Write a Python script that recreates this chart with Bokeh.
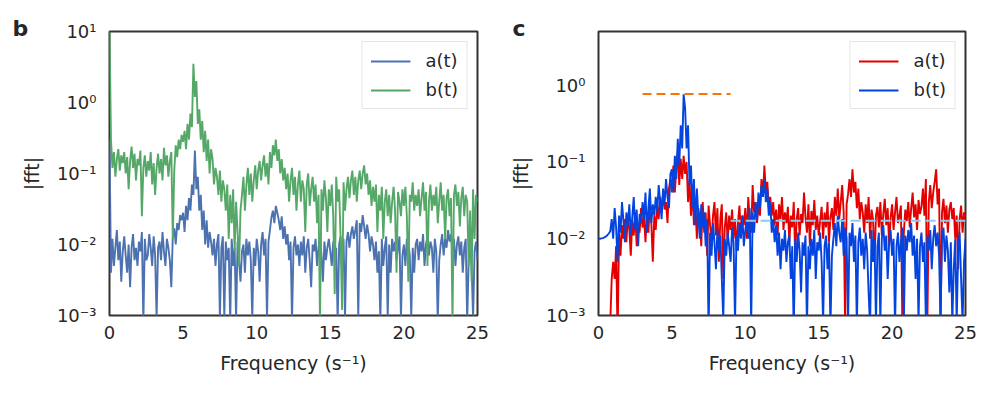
import numpy as np
from bokeh.plotting import figure
from bokeh.models import Range1d, FixedTicker, CustomJSTickFormatter
from bokeh.layouts import row
from bokeh.embed import file_html
from bokeh.resources import INLINE

FREQ_STEP = 0.1  # spacing of the frequency grid (s^-1)

# ---- panel b : |fft| of a(t) and b(t) ----
b_a = [
    0.30, 0.004, 0.012, 0.005, 0.009, 0.016, 0.006, 0.011, 0.003, 0.008,
    0.013, 0.007, 0.004, 0.010, 0.0025, 0.009, 0.014, 0.006, 0.009, 0.005,
    0.011, 0.008, 0.015, 0.0008, 0.012, 0.006, 0.007, 0.014, 0.009, 0.005,
    0.013, 0.007, 0.0009, 0.009, 0.011, 0.006, 0.015, 0.008, 0.005, 0.012,
    0.009, 0.006, 0.0025, 0.013, 0.017, 0.010, 0.020, 0.016, 0.026, 0.022,
    0.028, 0.015, 0.035, 0.022, 0.045, 0.030, 0.070, 0.050, 0.210, 0.060,
    0.090, 0.030, 0.050, 0.016, 0.030, 0.010, 0.022, 0.009, 0.015, 0.011,
    0.007, 0.012, 0.005, 0.010, 0.014, 0.0009, 0.009, 0.013, 0.0009, 0.011,
    0.006, 0.009, 0.0008, 0.012, 0.005, 0.009, 0.0009, 0.011, 0.006, 0.003,
    0.008, 0.010, 0.004, 0.012, 0.007, 0.011, 0.006, 0.0009, 0.009, 0.005,
    0.012, 0.008, 0.003, 0.010, 0.015, 0.007, 0.012, 0.0009, 0.011, 0.016,
    0.024, 0.030, 0.020, 0.035, 0.028, 0.022, 0.016, 0.025, 0.012, 0.018,
    0.010, 0.014, 0.006, 0.011, 0.0008, 0.009, 0.013, 0.007, 0.010, 0.005,
    0.011, 0.007, 0.013, 0.004, 0.009, 0.012, 0.006, 0.0025, 0.010, 0.008,
    0.012, 0.005, 0.009, 0.013, 0.007, 0.003, 0.011, 0.006, 0.009, 0.012,
    0.008, 0.005, 0.011, 0.006, 0.009, 0.0008, 0.010, 0.013, 0.004, 0.012,
    0.0009, 0.011, 0.015, 0.009, 0.014, 0.018, 0.012, 0.016, 0.022, 0.0009,
    0.020, 0.015, 0.026, 0.018, 0.012, 0.019, 0.014, 0.008, 0.013, 0.010,
    0.006, 0.011, 0.004, 0.008, 0.0008, 0.012, 0.005, 0.009, 0.013, 0.0009,
    0.010, 0.004, 0.012, 0.008, 0.011, 0.006, 0.009, 0.013, 0.0009, 0.007,
    0.010, 0.005, 0.012, 0.011, 0.007, 0.0009, 0.009, 0.004, 0.010, 0.012,
    0.006, 0.011, 0.008, 0.014, 0.005, 0.010, 0.013, 0.007, 0.011, 0.009,
    0.004, 0.012, 0.008, 0.0008, 0.006, 0.010, 0.014, 0.007, 0.012, 0.009,
    0.016, 0.011, 0.014, 0.008, 0.012, 0.005, 0.010, 0.013, 0.007, 0.011,
    0.004, 0.009, 0.012, 0.0008, 0.006, 0.010, 0.005, 0.0009, 0.008, 0.011, 0.006,
]
b_b = [
    12.0, 0.30, 0.12, 0.20, 0.09, 0.16, 0.22, 0.11, 0.18, 0.14,
    0.20, 0.10, 0.17, 0.06, 0.15, 0.24, 0.12, 0.19, 0.08, 0.16,
    0.13, 0.21, 0.025, 0.12, 0.18, 0.09, 0.15, 0.11, 0.20, 0.07,
    0.14, 0.05, 0.12, 0.19, 0.10, 0.16, 0.08, 0.23, 0.13, 0.18,
    0.09, 0.15, 0.20, 0.012, 0.11, 0.25, 0.17, 0.30, 0.22, 0.35,
    0.28, 0.40, 0.22, 0.50, 0.30, 0.70, 0.45, 3.50, 1.20, 2.00,
    0.50, 0.80, 0.30, 0.55, 0.20, 0.40, 0.15, 0.30, 0.10, 0.22,
    0.16, 0.07, 0.12, 0.09, 0.05, 0.11, 0.04, 0.08, 0.06, 0.03,
    0.07, 0.012, 0.05, 0.02, 0.06, 0.008, 0.04, 0.015, 0.005, 0.03,
    0.05, 0.09, 0.03, 0.07, 0.12, 0.05, 0.10, 0.04, 0.08, 0.13,
    0.06, 0.11, 0.15, 0.08, 0.13, 0.18, 0.09, 0.14, 0.07, 0.20,
    0.12, 0.25, 0.18, 0.30, 0.15, 0.22, 0.10, 0.16, 0.08, 0.12,
    0.06, 0.10, 0.04, 0.08, 0.12, 0.05, 0.09, 0.03, 0.07, 0.11,
    0.04, 0.08, 0.06, 0.015, 0.07, 0.10, 0.035, 0.06, 0.09, 0.04,
    0.07, 0.02, 0.05, 0.0008, 0.06, 0.03, 0.08, 0.045, 0.015, 0.06,
    0.035, 0.07, 0.025, 0.002, 0.09, 0.04, 0.06, 0.012, 0.0012, 0.075,
    0.03, 0.06, 0.09, 0.045, 0.08, 0.11, 0.05, 0.09, 0.04, 0.08,
    0.11, 0.06, 0.10, 0.13, 0.07, 0.10, 0.05, 0.08, 0.035, 0.065,
    0.04, 0.07, 0.015, 0.05, 0.03, 0.065, 0.012, 0.04, 0.06, 0.025,
    0.05, 0.02, 0.04, 0.065, 0.03, 0.004, 0.055, 0.04, 0.025, 0.06,
    0.035, 0.065, 0.025, 0.003, 0.05, 0.04, 0.075, 0.03, 0.05, 0.035,
    0.06, 0.025, 0.045, 0.075, 0.03, 0.055, 0.005, 0.04, 0.07, 0.03,
    0.05, 0.035, 0.065, 0.02, 0.04, 0.075, 0.03, 0.05, 0.012, 0.045,
    0.06, 0.025, 0.045, 0.0008, 0.05, 0.07, 0.035, 0.055, 0.018, 0.045,
    0.065, 0.025, 0.05, 0.04, 0.005, 0.03, 0.003, 0.06, 0.012, 0.05, 0.04,
]

# ---- panel c : |fft| of a(t) and b(t) ----
c_a = [
    0.0001, 0.0001, 0.0001, 0.0001, 0.0001, 0.0001, 0.0001, 0.0002, 0.0008, 0.003,
    0.005, 0.003, 0.008, 0.0005, 0.012, 0.006, 0.015, 0.010, 0.018, 0.009,
    0.020, 0.013, 0.006, 0.017, 0.011, 0.022, 0.008, 0.015, 0.012, 0.025,
    0.014, 0.019, 0.009, 0.021, 0.012, 0.030, 0.016, 0.005, 0.020, 0.013,
    0.027, 0.018, 0.035, 0.022, 0.040, 0.024, 0.030, 0.016, 0.045, 0.060,
    0.040, 0.090, 0.040, 0.080, 0.140, 0.050, 0.110, 0.060, 0.120, 0.070,
    0.100, 0.030, 0.060, 0.020, 0.045, 0.015, 0.028, 0.010, 0.025, 0.018,
    0.008, 0.030, 0.012, 0.022, 0.006, 0.027, 0.015, 0.009, 0.020, 0.030,
    0.011, 0.025, 0.005, 0.018, 0.028, 0.003, 0.014, 0.022, 0.009, 0.020,
    0.013, 0.024, 0.010, 0.018, 0.007, 0.016, 0.027, 0.012, 0.020, 0.015,
    0.025, 0.010, 0.035, 0.018, 0.012, 0.050, 0.022, 0.030, 0.016, 0.028,
    0.020, 0.060, 0.035, 0.090, 0.040, 0.055, 0.025, 0.035, 0.020, 0.030,
    0.015, 0.024, 0.011, 0.028, 0.018, 0.035, 0.013, 0.022, 0.016, 0.026,
    0.009, 0.020, 0.014, 0.030, 0.006, 0.018, 0.025, 0.011, 0.021, 0.016,
    0.040, 0.019, 0.012, 0.028, 0.008, 0.023, 0.015, 0.032, 0.013, 0.020,
    0.011, 0.017, 0.026, 0.010, 0.022, 0.014, 0.030, 0.009, 0.019, 0.025,
    0.013, 0.035, 0.020, 0.045, 0.018, 0.030, 0.050, 0.022, 0.0007, 0.028,
    0.038, 0.060, 0.035, 0.080, 0.040, 0.055, 0.025, 0.045, 0.018, 0.030,
    0.022, 0.012, 0.028, 0.016, 0.035, 0.010, 0.024, 0.018, 0.005, 0.020,
    0.026, 0.014, 0.030, 0.011, 0.021, 0.033, 0.015, 0.025, 0.008, 0.019,
    0.028, 0.013, 0.022, 0.035, 0.016, 0.020, 0.027, 0.0007, 0.012, 0.024,
    0.017, 0.030, 0.014, 0.025, 0.040, 0.019, 0.028, 0.013, 0.032, 0.021,
    0.026, 0.045, 0.020, 0.060, 0.0007, 0.030, 0.050, 0.025, 0.040, 0.055,
    0.080, 0.028, 0.045, 0.0007, 0.022, 0.033, 0.016, 0.027, 0.012, 0.024,
    0.030, 0.018, 0.025, 0.010, 0.020, 0.004, 0.018, 0.027, 0.012, 0.022, 0.017,
]
c_b = [
    0.0100, 0.0100, 0.0101, 0.0102, 0.0104, 0.0107, 0.0111, 0.0117, 0.0125, 0.018,
    0.010, 0.025, 0.014, 0.005, 0.020, 0.012, 0.030, 0.017, 0.009, 0.022,
    0.015, 0.028, 0.011, 0.019, 0.035, 0.013, 0.024, 0.008, 0.021, 0.016,
    0.030, 0.018, 0.040, 0.012, 0.025, 0.045, 0.016, 0.028, 0.020, 0.035,
    0.022, 0.050, 0.030, 0.018, 0.045, 0.028, 0.060, 0.035, 0.025, 0.070,
    0.080, 0.040, 0.120, 0.060, 0.200, 0.090, 0.300, 0.150, 0.760, 0.500,
    0.150, 0.300, 0.050, 0.090, 0.025, 0.060, 0.015, 0.045, 0.020, 0.010,
    0.028, 0.014, 0.022, 0.008, 0.018, 0.0006, 0.012, 0.006, 0.016, 0.009,
    0.004, 0.013, 0.007, 0.011, 0.003, 0.0009, 0.010, 0.006, 0.012, 0.008,
    0.005, 0.014, 0.009, 0.0008, 0.011, 0.007, 0.016, 0.010, 0.020, 0.008,
    0.013, 0.018, 0.010, 0.025, 0.0007, 0.022, 0.012, 0.030, 0.018, 0.040,
    0.025, 0.050, 0.035, 0.060, 0.030, 0.045, 0.020, 0.030, 0.012, 0.018,
    0.009, 0.015, 0.006, 0.012, 0.004, 0.010, 0.007, 0.013, 0.005, 0.009,
    0.011, 0.003, 0.008, 0.0006, 0.010, 0.005, 0.012, 0.007, 0.002, 0.009,
    0.006, 0.011, 0.0007, 0.008, 0.004, 0.010, 0.006, 0.013, 0.003, 0.009,
    0.007, 0.012, 0.005, 0.0008, 0.008, 0.011, 0.004, 0.009, 0.0007, 0.006,
    0.010, 0.016, 0.008, 0.020, 0.012, 0.009, 0.018, 0.006, 0.014, 0.010,
    0.0008, 0.012, 0.008, 0.016, 0.005, 0.011, 0.0007, 0.009, 0.014, 0.006,
    0.010, 0.004, 0.012, 0.007, 0.002, 0.0007, 0.013, 0.005, 0.010, 0.0008,
    0.008, 0.012, 0.0008, 0.010, 0.015, 0.007, 0.011, 0.003, 0.009, 0.013,
    0.006, 0.010, 0.0007, 0.008, 0.012, 0.005, 0.009, 0.014, 0.0008, 0.011,
    0.007, 0.013, 0.009, 0.016, 0.006, 0.011, 0.003, 0.010, 0.0008, 0.008,
    0.012, 0.005, 0.009, 0.0008, 0.011, 0.007, 0.013, 0.004, 0.010, 0.015,
    0.008, 0.012, 0.006, 0.0009, 0.010, 0.014, 0.005, 0.011, 0.007, 0.002,
    0.009, 0.0008, 0.004, 0.010, 0.0008, 0.007, 0.012, 0.003, 0.0008, 0.005, 0.010,
]

# reference levels in panel c (dashed lines)
peak_x = [3.0, 9.0]
peak_y = [0.77, 0.77]
floor_x = [9.0, 25.0]
floor_y = [0.0172, 0.0172]

x_ticks = [0, 5, 10, 15, 20, 25]
b_y_ticks = [1e-3, 1e-2, 1e-1, 1, 10]
c_y_ticks = [1e-3, 1e-2, 1e-1, 1]

FONT = "DejaVu Sans"
TXT = "#262626"

SUP_JS = """
const sup = {"-": "\u207b", "0": "\u2070", "1": "\u00b9", "2": "\u00b2", "3": "\u00b3",
             "4": "\u2074", "5": "\u2075", "6": "\u2076", "7": "\u2077", "8": "\u2078", "9": "\u2079"};
const e = Math.round(Math.log10(tick));
return "10" + String(e).split("").map(c => sup[c]).join("");
"""


def freq(arr):
    return np.arange(len(arr)) * FREQ_STEP


def make_fig(ytop, yticks, fw, bl, br, letter, letter_offset):
    p = figure(frame_width=fw, frame_height=284,
               x_range=Range1d(0, 25), y_range=Range1d(1e-3, ytop),
               y_axis_type="log", output_backend="svg", toolbar_location=None,
               min_border_left=bl, min_border_right=br, min_border_top=31,
               min_border_bottom=72)
    p.background_fill_color = "white"
    p.border_fill_color = "white"
    p.outline_line_color = "#333333"
    p.outline_line_width = 2
    p.xgrid.visible = False
    p.ygrid.visible = False
    p.xaxis.ticker = FixedTicker(ticks=x_ticks)
    p.yaxis.ticker = FixedTicker(ticks=yticks)
    p.yaxis.formatter = CustomJSTickFormatter(code=SUP_JS)
    for ax in (p.xaxis[0], p.yaxis[0]):
        ax.axis_line_color = None
        ax.major_tick_line_color = None
        ax.minor_tick_line_color = None
        ax.major_tick_out = 0
        ax.major_tick_in = 0
        ax.minor_tick_out = 0
        ax.minor_tick_in = 0
        ax.major_label_text_font = FONT
        ax.major_label_text_font_size = "18px"
        ax.major_label_text_color = TXT
        ax.axis_label_text_font = FONT
        ax.axis_label_text_font_size = "19px"
        ax.axis_label_text_font_style = "normal"
        ax.axis_label_text_color = TXT
    p.xaxis.major_label_standoff = 10
    p.yaxis.major_label_standoff = 13
    p.xaxis.axis_label = "Frequency (s\u207b\u00b9)"
    p.xaxis.axis_label_standoff = 10
    p.yaxis.axis_label = "|fft|"
    p.yaxis.axis_label_standoff = 11
    # panel letter
    p.title.text = letter
    p.title.align = "left"
    p.title.offset = letter_offset
    p.title.standoff = -19
    p.title.text_font = FONT
    p.title.text_font_size = "22px"
    p.title.text_font_style = "bold"
    p.title.text_color = TXT
    return p


def style_legend(p):
    lg = p.legend[0]
    lg.location = "top_right"
    lg.margin = 10
    lg.padding = 8
    lg.spacing = 8
    lg.glyph_width = 40
    lg.glyph_height = 20
    lg.label_height = 20
    lg.label_standoff = 15
    lg.label_text_font = FONT
    lg.label_text_font_size = "18px"
    lg.label_text_color = TXT
    lg.border_line_color = "#cccccc"
    lg.border_line_width = 1
    lg.background_fill_color = "white"
    lg.background_fill_alpha = 0.8


# panel b
p1 = make_fig(10, b_y_ticks, 368, 109, 21, "b", -97)
p1.line(freq(b_a), b_a, line_color="#4c72b0", line_width=1.9, legend_label="a(t)")
p1.line(freq(b_b), b_b, line_color="#55a868", line_width=1.9, legend_label="b(t)")
style_legend(p1)

# panel c
p2 = make_fig(5.0, c_y_ticks, 367, 100, 25, "c", -86)
p2.line(freq(c_a), c_a, line_color="#e50000", line_width=1.9, legend_label="a(t)")
p2.line(freq(c_b), c_b, line_color="#0343df", line_width=1.9, legend_label="b(t)")
p2.line(peak_x, peak_y, line_color="#f97306", line_width=2, line_dash="9 5")
p2.line(floor_x, floor_y, line_color="#8ccbf2", line_width=2, line_dash="10 5")
style_legend(p2)

layout = row(p1, p2)
with open("out.html", "w", encoding="utf-8") as f:
    f.write(file_html(layout, INLINE))
